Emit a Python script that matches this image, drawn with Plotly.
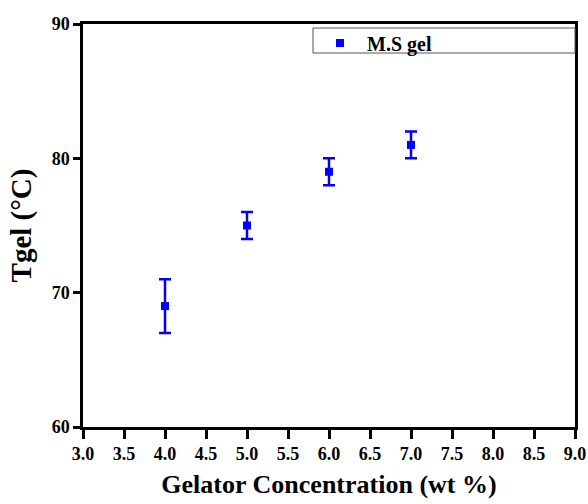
import plotly.graph_objects as go

conc = [4.0, 5.0, 6.0, 7.0]
tgel = [69, 75, 79, 81]
err = [2, 1, 1, 1]
x_ticks = [3.0, 3.5, 4.0, 4.5, 5.0, 5.5, 6.0, 6.5, 7.0, 7.5, 8.0, 8.5, 9.0]
y_ticks = [60, 70, 80, 90]

FONT = "Liberation Serif"
fig = go.Figure()
fig.add_trace(go.Scatter(
    x=conc, y=tgel, mode="markers", name="<b>M.S gel</b>",
    marker=dict(symbol="square", size=8, color="#0000FF"),
    error_y=dict(type="data", array=err, visible=True, color="#0000FF", thickness=2.5, width=6),
))
axis_common = dict(showline=True, linecolor="black", linewidth=2.5, mirror=True,
                   ticks="outside", tickcolor="black", tickwidth=2.5,
                   showgrid=False, zeroline=False,
                   tickfont=dict(family=FONT, size=18, color="black"))
fig.update_xaxes(range=[3.0, 9.0], tickvals=x_ticks, ticktext=[f"<b>{v:.1f}</b>" for v in x_ticks],
                 ticklen=9,
                 title=dict(text="<b>Gelator Concentration (wt %)</b>", font=dict(family=FONT, size=26, color="black"), standoff=12),
                 **axis_common)
fig.update_yaxes(range=[60, 90], tickvals=y_ticks, ticktext=[f"<b>{v}</b>" for v in y_ticks],
                 ticklen=7,
                 title=dict(text="<b>Tgel (°C)</b>", font=dict(family=FONT, size=29, color="black"), standoff=12),
                 **axis_common)
# legend frame (decoration)
fig.add_shape(type="rect", xref="paper", yref="paper", x0=0.4675, x1=1.0, y0=0.928, y1=0.990,
              line=dict(color="#555", width=1), fillcolor="rgba(0,0,0,0)", layer="above")
fig.update_layout(
    width=588, height=504, plot_bgcolor="white", paper_bgcolor="white",
    margin=dict(l=83, r=13, t=24, b=77, autoexpand=False),
    showlegend=True,
    legend=dict(x=0.4675, y=0.953, xanchor="left", yanchor="middle", bgcolor="rgba(0,0,0,0)",
                borderwidth=0,
                font=dict(family=FONT, size=20, color="black"),
                itemwidth=44),
)
fig.write_html("out.html", config={"displayModeBar": False},
               post_script="document.body.style.margin='0';document.body.style.padding='0';")
